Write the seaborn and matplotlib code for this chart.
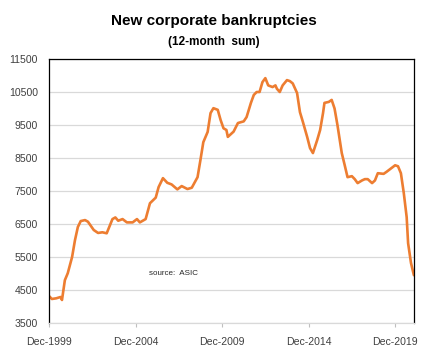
import pandas as pd
import matplotlib
matplotlib.use('Agg')
import matplotlib.pyplot as plt
import seaborn as sns

# months counted from Dec-1999 and the 12-month sum
month_idx = [0, 2, 5, 8, 9, 10, 11, 13, 16, 18, 20, 22, 25, 27, 31, 34, 37, 40,
             44, 46, 48, 51, 54, 58, 61, 63, 67, 70, 74, 76, 79, 82, 85, 89, 92,
             96, 99, 103, 105, 107, 110, 112, 114, 117, 119, 121, 123, 124, 128, 131,
             135, 137, 140, 142, 144, 146, 148, 150, 152, 155, 157, 158, 160, 162,
             165, 167, 169, 172, 174, 176, 179, 181, 183, 186, 188, 190, 191, 194,
             196, 198, 200, 203, 205, 207, 210, 212, 214, 217, 219, 221, 224, 226,
             228, 232, 234, 237, 240, 242, 244, 246, 248, 249, 251, 253]
bankruptcies = [4320, 4230, 4250, 4290, 4200, 4500, 4800, 5010, 5500, 6010, 6410,
                6590, 6620, 6570, 6320, 6230, 6250, 6220, 6650, 6700, 6600, 6650,
                6550, 6550, 6650, 6550, 6650, 7130, 7300, 7620, 7890, 7750, 7700,
                7550, 7650, 7560, 7600, 7920, 8440, 8980, 9290, 9860, 10010, 9960,
                9650, 9400, 9350, 9140, 9300, 9560, 9610, 9740, 10170, 10410, 10500,
                10500, 10800, 10920, 10700, 10650, 10700, 10600, 10500, 10700, 10860,
                10830, 10760, 10470, 9890, 9600, 9140, 8800, 8650, 9050, 9350, 9860,
                10170, 10200, 10260, 10000, 9500, 8650, 8290, 7920, 7950, 7860, 7740,
                7820, 7860, 7860, 7740, 7820, 8040, 8020, 8080, 8180, 8280, 8250,
                8040, 7440, 6710, 5920, 5320, 4950]

x_ticks = [0, 60, 120, 180, 240]
x_labels = ['Dec-1999', 'Dec-2004', 'Dec-2009', 'Dec-2014', 'Dec-2019']
y_ticks = [3500, 4500, 5500, 6500, 7500, 8500, 9500, 10500, 11500]

df = pd.DataFrame({'month': month_idx, 'value': bankruptcies})

sns.set_style('white')
plt.rcParams['font.family'] = ['Liberation Sans', 'DejaVu Sans']

fig = plt.figure(figsize=(4.28, 3.63), dpi=100)
ax = fig.add_axes([0.1145, 0.110, 0.8525, 0.7275])

sns.lineplot(data=df, x='month', y='value', ax=ax, color='#ED7D31', linewidth=1.9)

ax.set_xlim(0, 253)
ax.set_ylim(3500, 11500)
ax.set_xticks(x_ticks)
ax.set_xticklabels(x_labels)
ax.set_yticks(y_ticks)
ax.set_xlabel('')
ax.set_ylabel('')

ax.grid(axis='y', color='#D9D9D9', linewidth=0.9)
ax.grid(axis='x', visible=False)
ax.set_axisbelow(True)

for side in ['left', 'right', 'top']:
    ax.spines[side].set_color('#000000')
    ax.spines[side].set_linewidth(0.9)
ax.spines['bottom'].set_color('#D9D9D9')
ax.spines['bottom'].set_linewidth(0.9)

ax.tick_params(axis='x', length=3, width=0.8, color='#BFBFBF', labelsize=7.6,
               labelcolor='#404040', pad=7, direction='out', bottom=True)
ax.tick_params(axis='y', length=0, labelsize=7.6, labelcolor='#404040', pad=8)

ax.text(69, 5000, 'source:  ASIC', fontsize=5.8, color='#262626', va='center')

fig.text(0.5, 0.942, 'New corporate bankruptcies', ha='center', va='center',
         fontsize=11, fontweight='bold', color='black')
fig.text(0.5, 0.885, '(12-month  sum)', ha='center', va='center',
         fontsize=8.5, fontweight='bold', color='black')

fig.savefig('out.png', dpi=100)
